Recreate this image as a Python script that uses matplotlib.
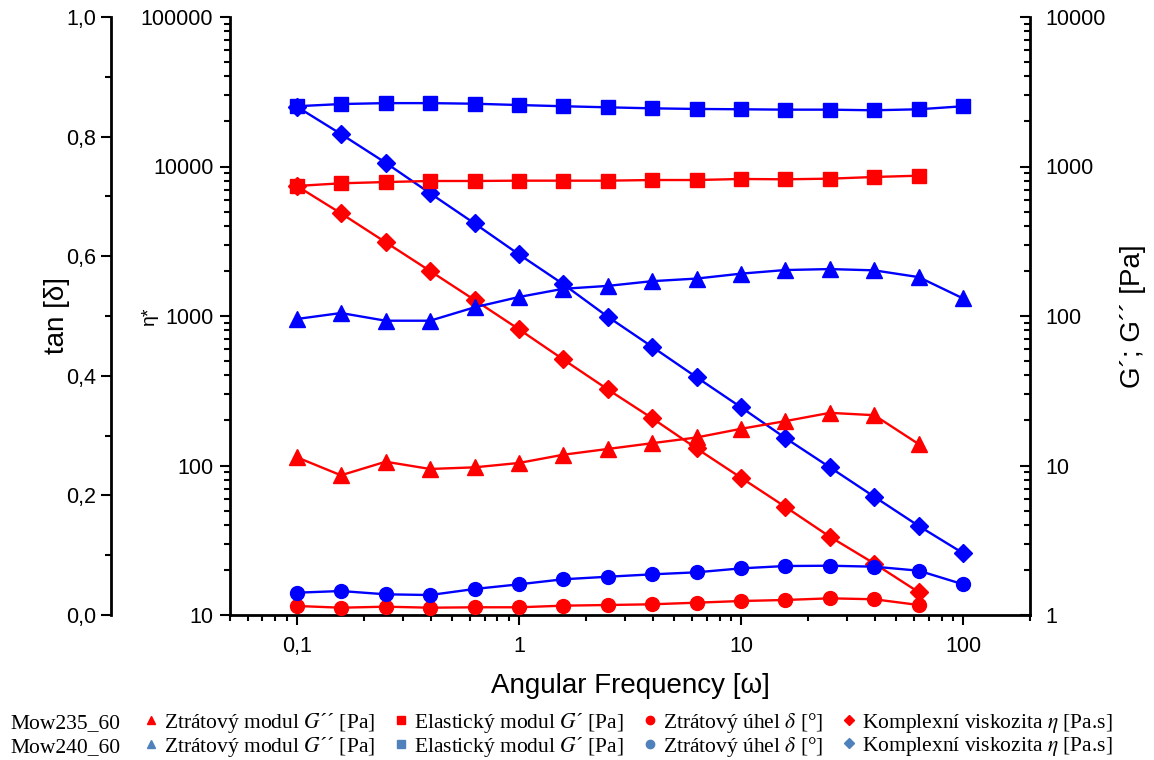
import matplotlib
matplotlib.use("Agg")
import matplotlib.pyplot as plt
import matplotlib.ticker as mticker
from matplotlib.lines import Line2D
import numpy as np

plt.rcParams['font.family'] = ['Liberation Sans', 'DejaVu Sans']
plt.rcParams['mathtext.fontset'] = 'stix'

# ---------------- data ----------------
omega_235 = [0.1, 0.158, 0.251, 0.398, 0.631, 1, 1.58, 2.51, 3.98, 6.31, 10, 15.8, 25.1, 39.8, 63.1]
omega_240 = [0.1, 0.158, 0.251, 0.398, 0.631, 1, 1.58, 2.51, 3.98, 6.31, 10, 15.8, 25.1, 39.8, 63.1, 100]

Gpp_235 = [11.35, 8.6, 10.6, 9.48, 9.72, 10.4, 11.8, 12.9, 14.1, 15.4, 17.6, 19.8, 22.5, 21.7, 13.9]
Gp_235 = [741, 772, 787, 800, 800, 804, 804, 804, 812, 812, 825, 821, 829, 851, 868]
tand_235 = [0.0151, 0.0122, 0.0139, 0.0122, 0.0129, 0.0129, 0.0156, 0.0167, 0.0179, 0.0206,
            0.0234, 0.0251, 0.0279, 0.0263, 0.0167]
eta_235 = [7410, 4860, 3115, 2000, 1280, 815, 513, 323, 207, 130, 82.8, 53, 33.4, 22.1, 14.2]

Gpp_240 = [95.5, 104.7, 93, 93, 114.3, 134, 152, 159, 171, 178, 192, 203, 206, 202, 182, 131]
Gp_240 = [2530, 2617, 2654, 2654, 2630, 2577, 2530, 2488, 2449, 2426, 2414, 2400, 2400, 2377, 2414, 2530]
tand_240 = [0.0373, 0.0401, 0.0346, 0.0334, 0.0435, 0.0513, 0.0597, 0.064, 0.068, 0.0714,
            0.078, 0.0819, 0.0824, 0.0808, 0.0741, 0.0513]
eta_240 = [25120, 16480, 10590, 6620, 4160, 2583, 1636, 989, 622, 389, 245, 153, 97.3, 61.8, 39.4, 25.9]

samples = ["Mow235_60", "Mow240_60"]
legend_labels = ["Ztrátový modul $G$´´ [Pa]", "Elastický modul $G$´ [Pa]",
                 "Ztrátový úhel $\\delta$ [°]", "Komplexní viskozita $\\eta$ [Pa.s]"]

RED = '#FF0000'
BLUE = '#0000FF'
LEG_BLUE = '#4F81BD'

fig = plt.figure(figsize=(11.54, 7.6), dpi=100)
ax = fig.add_axes([230/1154, 1 - 615/760, 800/1154, 598/760])   # eta* axis
ax_r = ax.twinx()   # G', G''
ax_t = ax.twinx()   # tan delta

lw = 1.7
for om, gpp, gp, td, eta, c in [(omega_235, Gpp_235, Gp_235, tand_235, eta_235, RED),
                                (omega_240, Gpp_240, Gp_240, tand_240, eta_240, BLUE)]:
    ax.plot(om, eta, '-', color=c, lw=lw, marker='D', ms=9.5, zorder=3)
    ax_r.plot(om, gp, '-', color=c, lw=lw, marker='s', ms=10, zorder=3)
    ax_r.plot(om, gpp, '-', color=c, lw=lw, marker='^', ms=11.5, zorder=3)
    ax_t.plot(om, td, '-', color=c, lw=lw, marker='o', ms=10, zorder=3)

ax.set_xscale('log')
ax.set_xlim(0.05, 200)
ax.set_yscale('log')
ax.set_ylim(10, 100000)
ax_r.set_yscale('log')
ax_r.set_ylim(1, 10000)
ax_t.set_ylim(0, 1.0)

tick_fs = 15.5
lab_fs = 20

ax.yaxis.set_major_locator(mticker.FixedLocator([10, 100, 1000, 10000, 100000]))
ax.yaxis.set_major_formatter(mticker.FuncFormatter(lambda v, p: f"{int(round(v))}"))
ax.yaxis.set_minor_locator(mticker.LogLocator(subs=np.arange(2, 10)))
ax.yaxis.set_minor_formatter(mticker.NullFormatter())

ax_r.yaxis.set_major_locator(mticker.FixedLocator([1, 10, 100, 1000, 10000]))
ax_r.yaxis.set_major_formatter(mticker.FuncFormatter(lambda v, p: f"{int(round(v))}"))
ax_r.yaxis.set_minor_locator(mticker.LogLocator(subs=np.arange(2, 10)))
ax_r.yaxis.set_minor_formatter(mticker.NullFormatter())

ax.xaxis.set_major_locator(mticker.FixedLocator([0.1, 1, 10, 100]))
ax.xaxis.set_major_formatter(mticker.FixedFormatter(["0,1", "1", "10", "100"]))
ax.xaxis.set_minor_locator(mticker.LogLocator(subs=np.arange(2, 10)))
ax.xaxis.set_minor_formatter(mticker.NullFormatter())

ax_t.yaxis.set_major_locator(mticker.MultipleLocator(0.2))
ax_t.yaxis.set_minor_locator(mticker.MultipleLocator(0.1))
ax_t.yaxis.set_major_formatter(mticker.FuncFormatter(lambda v, p: f"{v:.1f}".replace('.', ',')))

# spines
for a in (ax, ax_r, ax_t):
    a.spines['top'].set_visible(False)
ax.spines['right'].set_visible(False)
ax_t.spines['right'].set_visible(False)
ax_t.spines['bottom'].set_visible(False)
ax_r.spines['left'].set_visible(False)
ax_r.spines['bottom'].set_visible(False)
ax_t.spines['left'].set_visible(True)
ax_t.spines['left'].set_position(('axes', -119/800))
ax_t.yaxis.set_ticks_position('left')
ax_t.yaxis.set_label_position('left')
for a in (ax, ax_r, ax_t):
    for s in a.spines.values():
        s.set_linewidth(2)

ax.tick_params(axis='both', which='major', direction='out', length=7, width=1.5, labelsize=tick_fs)
ax.tick_params(axis='both', which='minor', direction='out', length=4, width=1.5)
ax.tick_params(axis='x', which='major', pad=8)
ax.tick_params(axis='y', which='major', pad=5)
ax_r.tick_params(axis='y', which='major', direction='in', length=7, width=1.5, labelsize=tick_fs, pad=11)
ax_r.tick_params(axis='y', which='minor', direction='in', length=4, width=1.5)
ax_t.tick_params(axis='y', which='major', direction='out', length=7, width=1.5, labelsize=tick_fs)
ax_t.tick_params(axis='y', which='minor', direction='out', length=4, width=1.5)

ax.set_xlabel("Angular Frequency [ω]", fontsize=lab_fs)
ax.xaxis.set_label_coords(0.5, -0.097)
ax.set_ylabel("η*", fontsize=14)
ax.yaxis.set_label_coords(-0.09, 0.5)
ax_r.set_ylabel("G´; G´´ [Pa]", fontsize=lab_fs)
ax_r.yaxis.set_label_coords(1.112, 0.5)
ax_t.set_ylabel("tan [δ]", fontsize=lab_fs)
ax_t.yaxis.set_label_coords(-0.2, 0.5)

# legend
serif = ['Liberation Serif', 'DejaVu Serif']
leg_fs = 15.5
for s, y in zip(samples, [728, 752]):
    fig.text(10/1154, 1 - y/760, s, fontsize=leg_fs, family=serif, va='baseline', ha='left')

handles = []
markers = ['^', 's', 'o', 'D']
for mk in markers:
    for c in (RED, LEG_BLUE):
        handles.append(Line2D([], [], ls='none', marker=mk, color=c, ms=6 if mk != 'D' else 5))
labels = []
for lab in legend_labels:
    labels += [lab, lab]
fig.legend(handles, labels, ncol=4, loc='center left', bbox_to_anchor=(145/1154, 1 - 735/760),
           frameon=False, prop={'family': serif, 'size': leg_fs}, handlelength=0.6,
           handletextpad=0.3, columnspacing=0.9, labelspacing=0.0, borderpad=0, borderaxespad=0)

fig.savefig("out.png", dpi=100)
